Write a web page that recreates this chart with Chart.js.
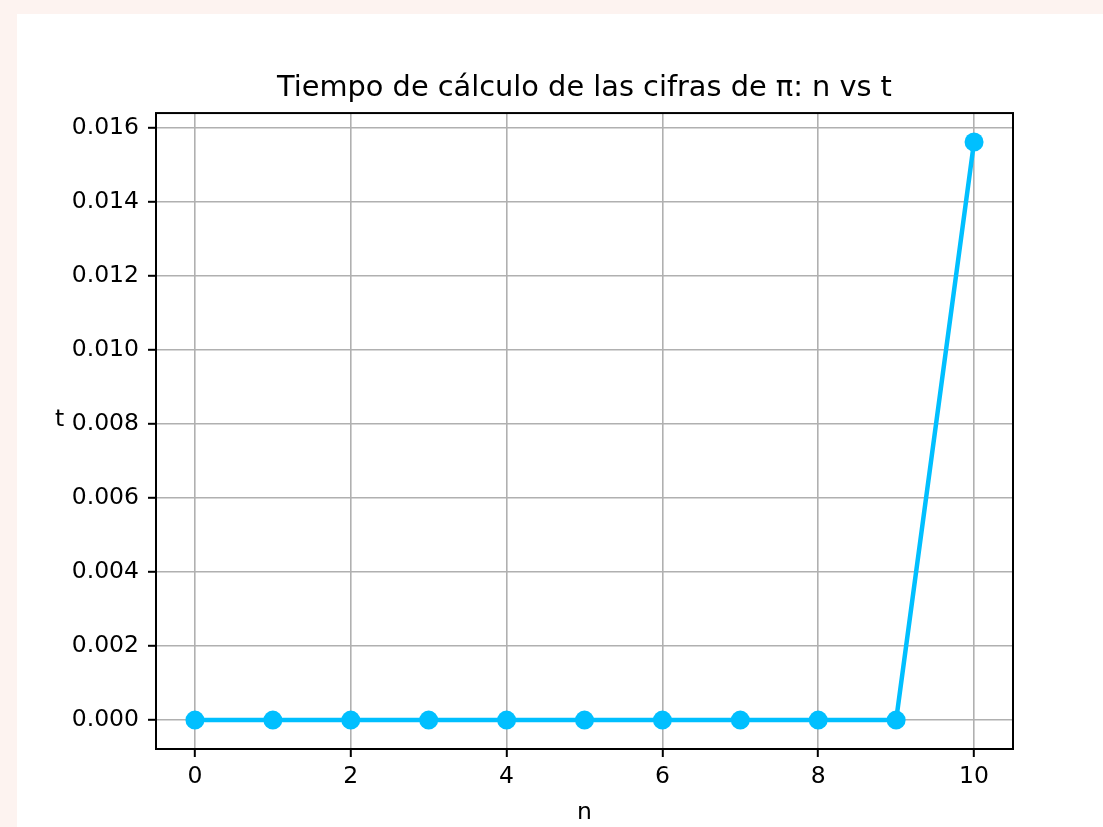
<!DOCTYPE html>
<html>
<head>
<meta charset="utf-8">
<script src="https://cdn.jsdelivr.net/npm/chart.js@4.4.1/dist/chart.umd.min.js"></script>
<style>
  html, body { margin: 0; padding: 0; background: #fdf3f0; width: 1103px; height: 827px; overflow: hidden; }
  #card { position: absolute; left: 17px; top: 14px; right: 0; bottom: 0; background: #ffffff; }
  #c { position: absolute; left: 0; top: 0; }
</style>
</head>
<body>
<div id="card"></div>
<canvas id="c" width="1103" height="827"></canvas>
<script>
// ---- data ----
const nValues = [0, 1, 2, 3, 4, 5, 6, 7, 8, 9, 10];
const tValues = [0, 0, 0, 0, 0, 0, 0, 0, 0, 0, 0.015625];
const xTicks = [0, 2, 4, 6, 8, 10];
const yTicks = [0, 0.002, 0.004, 0.006, 0.008, 0.010, 0.012, 0.014, 0.016];
const titleText = 'Tiempo de cálculo de las cifras de π: n vs t';
const xLabel = 'n';
const yLabel = 't';

const FONT = "'DejaVu Sans', sans-serif";

const framePlugin = {
  id: 'frame',
  afterDatasetsDraw(chart) {
    const {ctx, chartArea: a} = chart;
    ctx.save();
    ctx.strokeStyle = '#000';
    ctx.lineWidth = 2;
    ctx.strokeRect(a.left, a.top, a.right - a.left, a.bottom - a.top);
    ctx.restore();
  },
  afterDraw(chart) {
    const {ctx, chartArea: a} = chart;
    ctx.save();
    ctx.fillStyle = '#000';
    ctx.font = '23.5px ' + FONT;
    ctx.textAlign = 'center';
    ctx.textBaseline = 'alphabetic';
    ctx.fillText(yLabel, 59.5, (a.top + a.bottom) / 2 - 5.5);
    ctx.restore();
  }
};

new Chart(document.getElementById('c'), {
  type: 'line',
  data: {
    datasets: [{
      data: nValues.map((n, i) => ({x: n, y: tValues[i]})),
      borderColor: '#00bfff',
      backgroundColor: '#00bfff',
      borderWidth: 4.5,
      pointRadius: 9.5,
      pointHoverRadius: 9.5,
      pointBorderWidth: 0,
      pointBackgroundColor: '#00bfff',
      tension: 0,
      fill: false
    }]
  },
  options: {
    responsive: false,
    animation: false,
    devicePixelRatio: 1,
    layout: { padding: { left: 0, right: 90, top: 0, bottom: 0 } },
    plugins: {
      legend: { display: false },
      tooltip: { enabled: false },
      title: {
        display: true,
        fullSize: false,
        text: titleText,
        color: '#000',
        font: { family: FONT, size: 28.8, weight: 'normal', lineHeight: 1.2 },
        padding: { top: 71, bottom: 7.5 }
      }
    },
    scales: {
      x: {
        type: 'linear',
        min: -0.5,
        max: 10.5,
        afterBuildTicks: s => { s.ticks = xTicks.map(v => ({value: v})); },
        afterFit: s => { s.height = 78; },
        border: { display: false },
        grid: { color: '#b0b0b0', lineWidth: 1.6, drawTicks: true, tickLength: 8, tickColor: '#000', tickWidth: 2 },
        ticks: { color: '#000', font: { family: FONT, size: 23.5 }, padding: 6, maxRotation: 0, callback: v => String(v) },
        title: { display: true, text: xLabel, color: '#000', font: { family: FONT, size: 23.5 }, padding: { top: 0, bottom: 0 } }
      },
      y: {
        type: 'linear',
        min: -0.00078125,
        max: 0.01640625,
        afterBuildTicks: s => { s.ticks = yTicks.map(v => ({value: v})); },
        afterFit: s => { s.width = 156; },
        border: { display: false },
        grid: { color: '#b0b0b0', lineWidth: 1.6, drawTicks: true, tickLength: 8, tickColor: '#000', tickWidth: 2 },
        ticks: { color: '#000', font: { family: FONT, size: 23.5 }, padding: 9, callback: v => v.toFixed(3) }
      }
    }
  },
  plugins: [framePlugin]
});
</script>
</body>
</html>
